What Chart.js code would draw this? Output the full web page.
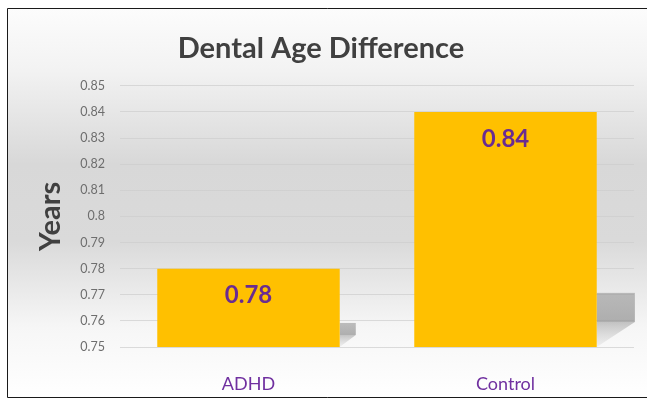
<!DOCTYPE html>
<html><head><meta charset="utf-8">
<script src="https://cdn.jsdelivr.net/npm/chart.js@4"></script>
<style>html,body{margin:0;padding:0;background:#fff}canvas{display:block}</style>
</head><body>
<canvas id="c" width="647" height="400"></canvas>
<script>
const categories = ['ADHD', 'Control'];
const values = [0.78, 0.84];
const valueLabels = ['0.78', '0.84'];
const yTickValues = [0.75, 0.76, 0.77, 0.78, 0.79, 0.8, 0.81, 0.82, 0.83, 0.84, 0.85];
const yTickLabels = ['0.75', '0.76', '0.77', '0.78', '0.79', '0.8', '0.81', '0.82', '0.83', '0.84', '0.85'];
const chartTitle = 'Dental Age Difference';
const yTitle = 'Years';

const bgPlugin = {
  id: 'bg',
  beforeDraw(chart) {
    const ctx = chart.ctx;
    ctx.save();
    ctx.fillStyle = '#ffffff';
    ctx.fillRect(0, 0, chart.width, chart.height);
    const g = ctx.createLinearGradient(0, 9, 0, 397);
    g.addColorStop(0, '#fcfcfc');
    g.addColorStop(0.15, '#f3f3f3');
    g.addColorStop(0.4, '#d8d8d8');
    g.addColorStop(0.6, '#dadada');
    g.addColorStop(0.82, '#f6f6f6');
    g.addColorStop(1, '#ffffff');
    ctx.fillStyle = g;
    ctx.fillRect(8, 9, chart.width - 8, 388);
    ctx.strokeStyle = '#1a1a1a';
    ctx.lineWidth = 1;
    ctx.beginPath();
    ctx.moveTo(647, 8.5); ctx.lineTo(7.5, 8.5); ctx.lineTo(7.5, 397.5); ctx.lineTo(647, 397.5);
    ctx.stroke();
    ctx.restore();
  }
};

const shadowPlugin = {
  id: 'barshadow',
  beforeDatasetsDraw(chart) {
    const ctx = chart.ctx;
    const area = chart.chartArea;
    const meta = chart.getDatasetMeta(0);
    ctx.save();
    ctx.beginPath();
    ctx.rect(area.left, area.top, area.right - area.left + 1, area.bottom - area.top);
    ctx.clip();
    meta.data.forEach(bar => {
      const base = Math.min(bar.base, area.bottom);
      const right = bar.x + bar.width / 2;
      const h = base - bar.y;
      const top = base - (9 + h * 0.192);
      const mid = base - (5.5 + h * 0.083);
      const w = 5 + h * 0.141;
      const g0 = ctx.createLinearGradient(0, top, 0, mid);
      g0.addColorStop(0, 'rgba(150,150,150,0.6)');
      g0.addColorStop(1, 'rgba(150,150,150,0.75)');
      ctx.fillStyle = g0;
      ctx.fillRect(right, top, w, mid - top);
      const g = ctx.createLinearGradient(0, mid, 0, base);
      g.addColorStop(0, 'rgba(160,160,160,0.6)');
      g.addColorStop(1, 'rgba(200,200,200,0.2)');
      ctx.fillStyle = g;
      ctx.beginPath();
      ctx.moveTo(right, mid);
      ctx.lineTo(right + w, mid);
      ctx.lineTo(right, base);
      ctx.closePath();
      ctx.fill();
    });
    ctx.restore();
  }
};

const labelPlugin = {
  id: 'vlabels',
  afterDatasetsDraw(chart) {
    const ctx = chart.ctx;
    const meta = chart.getDatasetMeta(0);
    ctx.save();
    ctx.font = 'bold 24px Lato';
    ctx.fillStyle = '#6a2c91';
    ctx.textAlign = 'center';
    ctx.textBaseline = 'middle';
    meta.data.forEach((bar, i) => {
      ctx.fillText(valueLabels[i], bar.x, bar.y + 27);
    });
    ctx.restore();
  }
};

new Chart(document.getElementById('c'), {
  type: 'bar',
  data: {
    labels: categories,
    datasets: [{
      data: values,
      backgroundColor: '#ffc000',
      borderWidth: 0,
      barPercentage: 0.71,
      categoryPercentage: 1
    }]
  },
  options: {
    responsive: false,
    animation: false,
    devicePixelRatio: 1,
    layout: { padding: { left: 8, right: 13, top: 10, bottom: 3 } },
    plugins: {
      legend: { display: false },
      tooltip: { enabled: false },
      title: {
        display: true,
        text: chartTitle,
        color: '#404040',
        font: { family: 'Lato', size: 29, weight: 'bold' },
        padding: { top: 21, bottom: 20 }
      }
    },
    scales: {
      x: {
        grid: { display: false },
        border: { display: false },
        ticks: { color: '#7030a0', font: { family: 'Lato', size: 18 }, padding: 18 },
        afterFit(s) { s.height = 50; }
      },
      y: {
        min: 0.75, max: 0.85,
        afterBuildTicks(s) { s.ticks = yTickValues.map(v => ({ value: v })); },
        grid: { color: 'rgba(205,205,205,0.7)', drawTicks: false },
        border: { display: false },
        ticks: {
          color: '#6e6e6e',
          font: { family: 'Lato', size: 12.5 },
          padding: 15,
          callback: (v, i) => yTickLabels[i]
        },
        title: {
          display: true,
          text: yTitle,
          color: '#404040',
          font: { family: 'Lato', size: 29, weight: 'bold' },
          padding: { top: 25, bottom: 0 }
        },
        afterFit(s) { s.width = 112; }
      }
    }
  },
  plugins: [bgPlugin, shadowPlugin, labelPlugin]
});
</script>
</body></html>
